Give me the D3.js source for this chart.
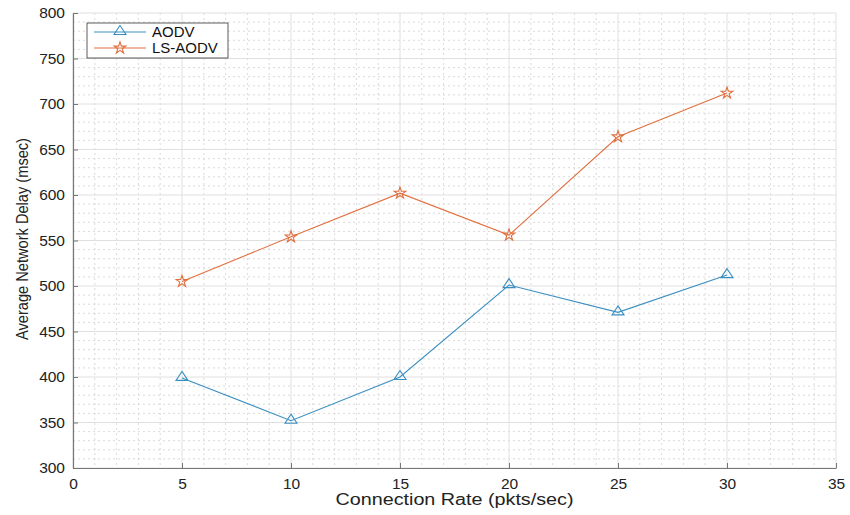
<!DOCTYPE html>
<html><head><meta charset="utf-8">
<script src="https://cdn.jsdelivr.net/npm/d3@7"></script>
<style>body{margin:0;background:#fff}svg{display:block}text{font-family:"Liberation Sans",Arial,sans-serif}</style>
</head><body><svg id="c" width="850" height="515"></svg>
<script>
const rates = [5, 10, 15, 20, 25, 30];
const aodv = [399, 352, 400, 501, 471, 512];
const lsaodv = [505, 554, 602, 556, 664, 712];
const seriesNames = ["AODV", "LS-AODV"];
const xTicks = [0, 5, 10, 15, 20, 25, 30, 35];
const yTicks = [300, 350, 400, 450, 500, 550, 600, 650, 700, 750, 800];
const colors = ["#3a8fc2", "#e0703f"];

const svg = d3.select("#c");
const L = 73, R = 836, T = 13, B = 468;
const x = d3.scaleLinear().domain([0, 35]).range([L, R]);
const y = d3.scaleLinear().domain([300, 800]).range([B, T]);

const g = svg.append("g");
// minor grid
g.selectAll(".mx").data(d3.range(0, 36, 1).filter(v => v % 5)).join("line")
  .attr("x1", d => x(d)).attr("x2", d => x(d)).attr("y1", T).attr("y2", B)
  .attr("stroke", "#d0d0d0").attr("stroke-width", 0.8).attr("stroke-dasharray", "2,3");
g.selectAll(".my").data(d3.range(300, 801, 10).filter(v => v % 50)).join("line")
  .attr("y1", d => y(d)).attr("y2", d => y(d)).attr("x1", L).attr("x2", R)
  .attr("stroke", "#d0d0d0").attr("stroke-width", 0.8).attr("stroke-dasharray", "2,3");
// major grid
g.selectAll(".gx").data(xTicks).join("line")
  .attr("x1", d => x(d)).attr("x2", d => x(d)).attr("y1", T).attr("y2", B)
  .attr("stroke", "#e0e0e0").attr("stroke-width", 1);
g.selectAll(".gy").data(yTicks).join("line")
  .attr("y1", d => y(d)).attr("y2", d => y(d)).attr("x1", L).attr("x2", R)
  .attr("stroke", "#e0e0e0").attr("stroke-width", 1);

// axes
const xa = svg.append("g").attr("transform", `translate(0,${B})`)
  .call(d3.axisBottom(x).tickValues(xTicks).tickSize(-5).tickSizeOuter(0).tickPadding(10));
const ya = svg.append("g").attr("transform", `translate(${L},0)`)
  .call(d3.axisLeft(y).tickValues(yTicks).tickSize(-5).tickSizeOuter(0).tickPadding(8));
[xa, ya].forEach(a => {
  a.select(".domain").attr("stroke", "#777").attr("stroke-width", 1.2);
  a.selectAll(".tick line").attr("stroke", "#777");
  a.selectAll(".tick text").attr("fill", "#222").style("font-size", "15.5px");
});

// lines
const data = [aodv, lsaodv];
const line = d3.line().x((d, i) => x(rates[i])).y(d => y(d));
data.forEach((s, k) => {
  svg.append("path").datum(s).attr("d", line).attr("fill", "none")
    .attr("stroke", colors[k]).attr("stroke-width", 1.1);
});
const tri = "M0,-5.5L6,3.5L-6,3.5Z";
const star = d3.symbol().type(d3.symbolStar).size(42)();
svg.selectAll(".m0").data(aodv).join("path")
  .attr("transform", (d, i) => `translate(${x(rates[i])},${y(d) - 1})`)
  .attr("d", tri).attr("fill", "none").attr("stroke", colors[0]).attr("stroke-width", 1.1);
svg.selectAll(".m1").data(lsaodv).join("path")
  .attr("transform", (d, i) => `translate(${x(rates[i])},${y(d)})`)
  .attr("d", star).attr("fill", "none").attr("stroke", colors[1]).attr("stroke-width", 1.1);

// legend
const lg = svg.append("g");
lg.append("rect").attr("x", 87).attr("y", 23).attr("width", 141).attr("height", 35)
  .attr("fill", "#fff").attr("stroke", "#333").attr("stroke-width", 0.8);
seriesNames.forEach((n, k) => {
  const yy = 32 + k * 16;
  lg.append("line").attr("x1", 94).attr("x2", 146).attr("y1", yy).attr("y2", yy)
    .attr("stroke", colors[k]).attr("stroke-width", 1.1);
  lg.append("path").attr("transform", `translate(120,${yy - (k ? 0 : 1)})`)
    .attr("d", k ? star : tri).attr("fill", "none").attr("stroke", colors[k]).attr("stroke-width", 1.1);
  lg.append("text").attr("x", 152).attr("y", yy + 5).text(n)
    .style("font-size", "15px").attr("fill", "#111");
});

// axis labels
svg.append("text").attr("x", (L + R) / 2).attr("y", 505).attr("text-anchor", "middle")
  .style("font-size", "16px").attr("fill", "#222")
  .attr("textLength", 238).attr("lengthAdjust", "spacingAndGlyphs")
  .text("Connection Rate (pkts/sec)");
svg.append("text").attr("transform", `translate(28,239) rotate(-90)`)
  .attr("text-anchor", "middle").style("font-size", "17px").attr("fill", "#222")
  .attr("textLength", 202).attr("lengthAdjust", "spacingAndGlyphs")
  .text("Average Network Delay (msec)");
</script></body></html>
